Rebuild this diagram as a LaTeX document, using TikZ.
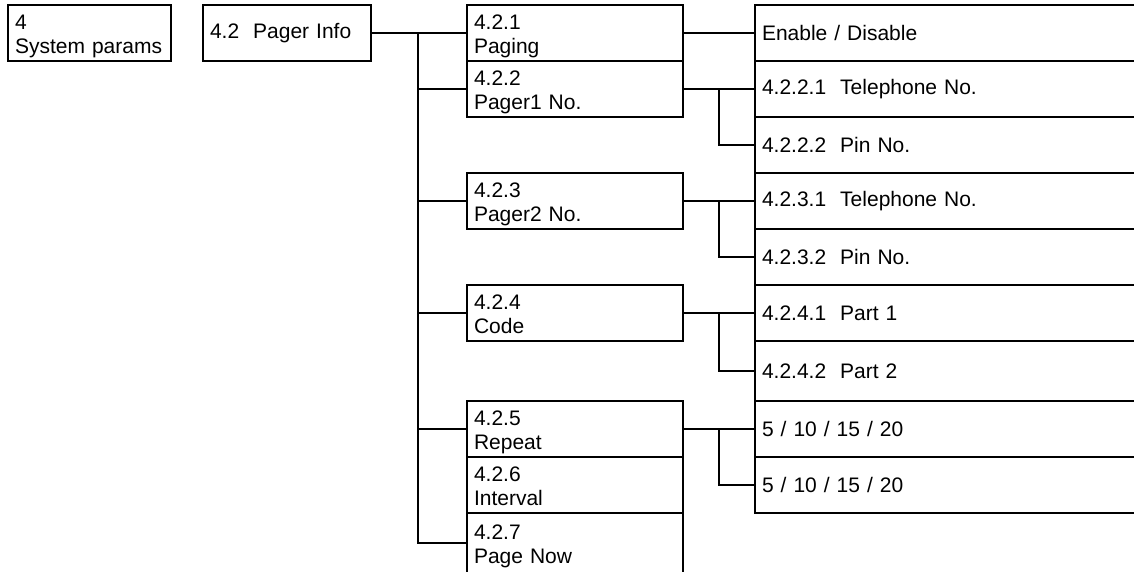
\documentclass[tikz,border=0pt]{standalone}
\usepackage{fontspec}
\setmainfont{Liberation Sans}
\usetikzlibrary{positioning, calc}

\begin{document}
\begin{tikzpicture}[
    x=1pt, y=-1pt,
    line width=2pt,
    node distance=0pt,
    box/.style={rectangle, draw, outer sep=0pt, inner xsep=7pt, inner ysep=0pt, anchor=north west, align=left, font=\fontsize{21}{23.5}\selectfont},
    twoline/.style={text height=20pt, text depth=27pt},
    menu/.style={box, twoline, text width=202pt, minimum height=56pt},
    leaf/.style={box, text width=404pt, minimum height=56pt},
    link/.style={-}
]
    \useasboundingbox (0,0) rectangle (1134,571);
    \clip (0,0) rectangle (1134,571);

    \node[box, twoline, text width=149pt, minimum height=56pt] (sys) at (8,5) {4\\System params};
    \node[box, text width=154pt, minimum height=56pt] (info) at (203,5) {4.2\ \ Pager Info};

    \node[menu] (p421) at (467,5) {4.2.1\\Paging};
    \node[menu, below=of p421] (p422) {4.2.2\\Pager1 No.};
    \node[menu] (p423) at (467,173) {4.2.3\\Pager2 No.};
    \node[menu] (p424) at (467,285) {4.2.4\\Code};
    \node[menu] (p425) at (467,401) {4.2.5\\Repeat};
    \node[menu, below=of p425] (p426) {4.2.6\\Interval};
    \node[menu, below=of p426, minimum height=60pt] (p427) {4.2.7\\Page Now};

    \node[leaf] (r1) at (755,5) {Enable / Disable};
    \node[leaf, below=of r1] (r2) {4.2.2.1\ \ Telephone No.};
    \node[leaf, below=of r2] (r3) {4.2.2.2\ \ Pin No.};
    \node[leaf, below=of r3] (r4) {4.2.3.1\ \ Telephone No.};
    \node[leaf, below=of r4] (r5) {4.2.3.2\ \ Pin No.};
    \node[leaf, below=of r5] (r6) {4.2.4.1\ \ Part 1};
    \node[leaf, below=of r6, minimum height=60pt] (r7) {4.2.4.2\ \ Part 2};
    \node[leaf, below=of r7] (r8) {5 / 10 / 15 / 20};
    \node[leaf, below=of r8] (r9) {5 / 10 / 15 / 20};

    \coordinate (trunk) at ($(info.east)!0.49!(p421.west)$);
    \draw[link] (info.east) -- (p421.west);
    \foreach \n in {p422,p423,p424,p425,p427}
        \draw[link] (trunk) |- (\n.west);

    \draw[link] (p421.east) -- (r1.west);
    \foreach \a/\b/\c in {p422/r2/r3, p423/r4/r5, p424/r6/r7, p425/r8/r9} {
        \draw[link] (\a.east) -- (\b.west);
        \draw[link] ($(\a.east)!0.5!(\b.west)$) |- (\c.west);
    }
\end{tikzpicture}
\end{document}
